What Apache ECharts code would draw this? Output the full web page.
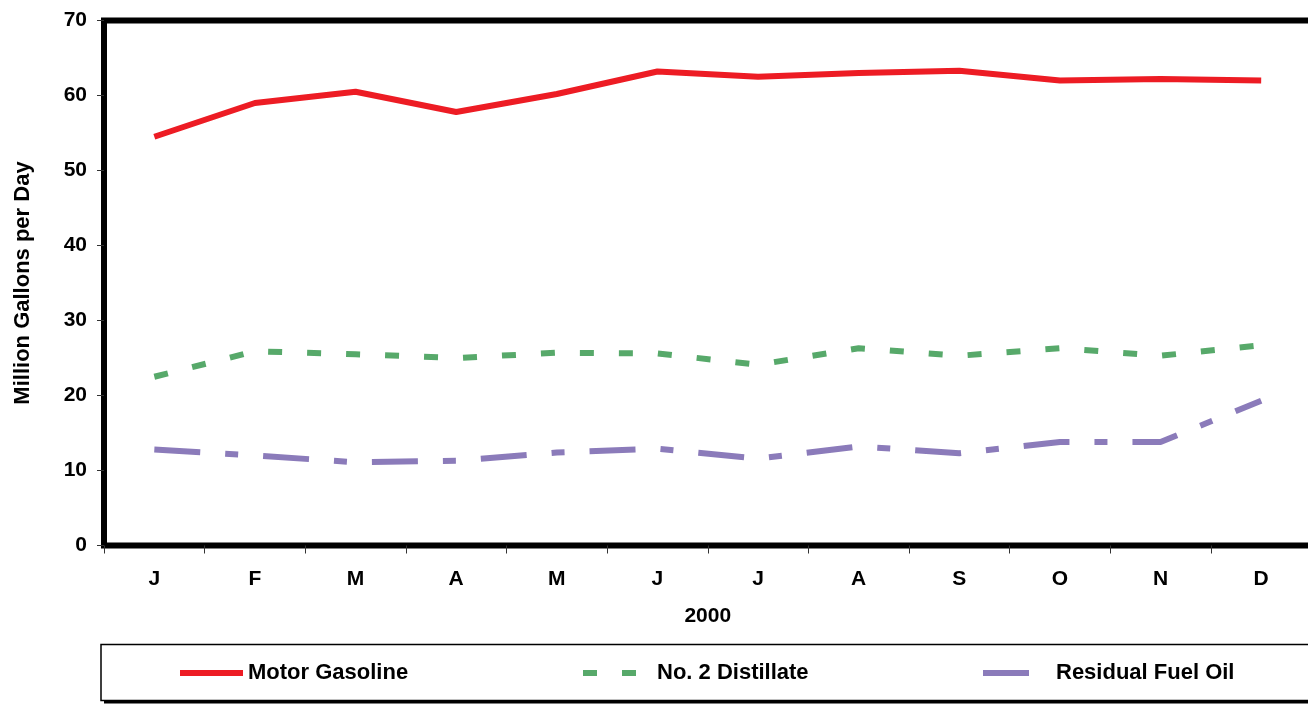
<!DOCTYPE html>
<html>
<head>
<meta charset="utf-8">
<script src="https://cdn.jsdelivr.net/npm/echarts@6/dist/echarts.min.js"></script>
<style>
    html, body { margin: 0; padding: 0; background: #fff; }
    #chart { width: 1308px; height: 706px; }
</style>
</head>
<body>
<div id="chart"></div>
<script>

const months = ['J', 'F', 'M', 'A', 'M', 'J', 'J', 'A', 'S', 'O', 'N', 'D'];

const gasoline = [54.5, 59.0, 60.5, 57.8, 60.2, 63.2, 62.5, 63.0, 63.3, 62.0, 62.2, 62.0];
const distillate = [22.5, 25.9, 25.5, 25.0, 25.7, 25.6, 24.1, 26.3, 25.3, 26.3, 25.3, 26.7];
const residual = [12.8, 12.0, 11.1, 11.3, 12.4, 12.9, 11.6, 13.2, 12.3, 13.8, 13.8, 19.3];

const yTicks = [0, 10, 20, 30, 40, 50, 60, 70];

const font = '"Liberation Sans", Arial, sans-serif';

const chart = echarts.init(document.getElementById('chart'));

const legendItem = (name, left, pad) => {
    return {
        data: [name],
        left: left,
        top: 662,
        padding: 0,
        orient: 'horizontal',
        itemWidth: 63,
        itemHeight: 14,
        itemStyle: { opacity: 0 },
        lineStyle: { width: 6, cap: 'butt' },
        textStyle: {
            fontFamily: font,
            fontSize: 22,
            fontWeight: 'bold',
            color: '#000',
            padding: [0, 0, 0, pad],
        },
    };
};

chart.setOption({
    animation: false,
    grid: {
        left: 104,
        top: 20.5,
        width: 1207.5,
        bottom: 160.5,
        outerBoundsMode: 'none',
        containLabel: false,
        show: true,
        borderColor: '#000',
        borderWidth: 6,
    },
    legend: [
        legendItem('Motor Gasoline', 177, 0),
        legendItem('No. 2 Distillate', 580, 6),
        legendItem('Residual Fuel Oil', 980, 5),
    ],
    graphic: [
        {
            type: 'rect',
            shape: { x: 104, y: 647.5, width: 1230, height: 56 },
            style: { fill: '#000' },
            z: -2,
        },
        {
            type: 'rect',
            shape: { x: 101, y: 644.5, width: 1230, height: 56 },
            style: { fill: '#fff', stroke: '#000', lineWidth: 1.5 },
            z: -1,
        },
    ],
    xAxis: {
        type: 'category',
        data: months,
        boundaryGap: true,
        name: '2000',
        nameLocation: 'middle',
        nameGap: 60,
        nameTextStyle: {
            fontFamily: font,
            fontSize: 21,
            fontWeight: 'bold',
            color: '#000',
        },
        axisLine: { show: false },
        axisTick: {
            show: true,
            length: 8,
            lineStyle: { color: '#333', width: 1 },
        },
        axisLabel: {
            margin: 23,
            fontFamily: font,
            fontSize: 21,
            fontWeight: 'bold',
            color: '#000',
        },
        splitLine: { show: false },
    },
    yAxis: {
        type: 'value',
        min: yTicks[0],
        max: yTicks[yTicks.length - 1],
        interval: 10,
        name: 'Million Gallons per Day',
        nameLocation: 'middle',
        nameGap: 70,
        nameTextStyle: {
            fontFamily: font,
            fontSize: 22,
            fontWeight: 'bold',
            color: '#000',
        },
        axisLine: { show: false },
        axisTick: {
            show: true,
            length: 7,
            lineStyle: { color: '#333', width: 1 },
        },
        axisLabel: {
            margin: 17,
            fontFamily: font,
            fontSize: 21,
            fontWeight: 'bold',
            color: '#000',
        },
        splitLine: { show: false },
    },
    series: [
        {
            name: 'Motor Gasoline',
            type: 'line',
            data: gasoline,
            symbol: 'none',
            color: '#ED1C24',
            lineStyle: { color: '#ED1C24', width: 6, cap: 'butt' },
        },
        {
            name: 'No. 2 Distillate',
            type: 'line',
            data: distillate,
            symbol: 'none',
            color: '#57A96A',
            lineStyle: { color: '#57A96A', width: 6, type: [14, 25], cap: 'butt' },
        },
        {
            name: 'Residual Fuel Oil',
            type: 'line',
            data: residual,
            symbol: 'none',
            color: '#8B7BBA',
            lineStyle: { color: '#8B7BBA', width: 6, type: [46, 25, 13, 25], cap: 'butt' },
        },
    ],
});

</script>
</body>
</html>
